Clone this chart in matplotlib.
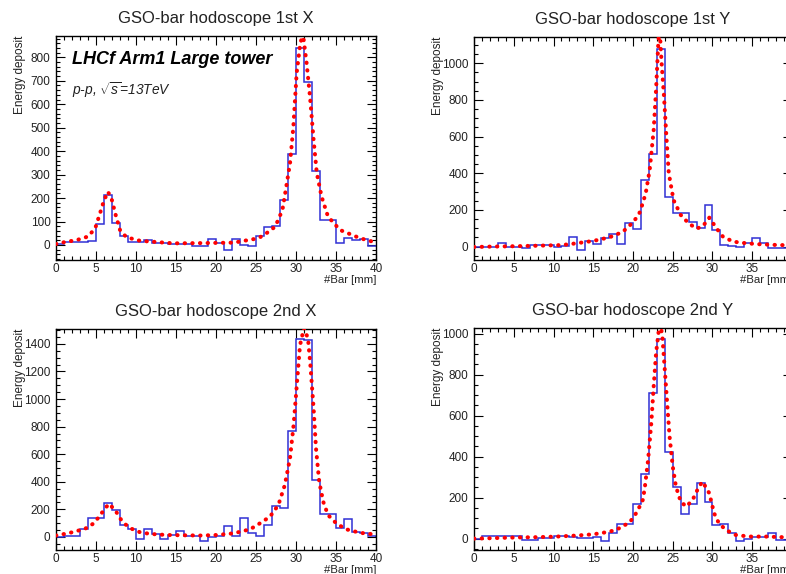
import numpy as np
import matplotlib
matplotlib.use("Agg")
import matplotlib.pyplot as plt
from matplotlib.ticker import MultipleLocator, AutoMinorLocator

plt.rcParams["font.family"] = "Liberation Sans"
plt.rcParams["mathtext.fontset"] = "custom"
plt.rcParams["mathtext.rm"] = "Liberation Sans"
plt.rcParams["mathtext.it"] = "Liberation Sans:italic"

# 40 bars, 1 mm each
bin_edges = np.arange(0, 41)

titles = ["GSO-bar hodoscope 1st X", "GSO-bar hodoscope 1st Y",
          "GSO-bar hodoscope 2nd X", "GSO-bar hodoscope 2nd Y"]

# energy deposit per bar (blue histograms)
hist_1x = [3, 13, 13, 13, 18, 90, 215, 95, 40, 11, 11, 21, 10, 10, 5, 5, 5, -5, -5, 25,
           10, -20, 25, 0, -5, 40, 75, 80, 190, 390, 840, 695, 315, 105, 105, 10, 30, 20, 25, -5]
hist_1y = [0, -3, -3, 18, -2, -2, -8, 9, 9, 9, -3, 2, 55, -18, 31, 12, 46, 69, 15, 131,
           95, 364, 505, 1080, 273, 182, 185, 136, 100, 227, 91, 9, 2, 0, 18, 46, 18, -9, -9, -7]
hist_2x = [0, 7, 7, 55, 137, 137, 244, 195, 86, 57, -17, 60, 18, -14, 13, 40, 10, 10, -28, -1,
           10, 82, 4, 137, 31, 7, 86, 226, 213, 768, 1434, 1427, 413, 167, 167, 63, 130, 34, 27, 10]
hist_2y = [0, 13, 13, 13, 13, 13, -5, -5, 3, 3, 12, 12, 8, 2, 5, 10, -10, 27, 72, 72,
           168, 314, 712, 975, 424, 253, 120, 169, 270, 180, 67, 72, 26, -10, 0, 7, 7, 26, -8, -8]

# fit curves (red dotted)
fit_1x_x = [0, 1.3, 2.5, 4.0, 4.9, 5.5, 6.0, 6.5, 7.0, 7.4, 8.0, 8.8, 10.5, 14.7, 18, 22.2,
            24.7, 25.5, 26.3, 27.4, 28.3, 28.6, 29.25, 29.67, 30.08, 30.5, 30.85, 31.33,
            31.75, 32.2, 32.6, 33.2, 34.0, 35.5, 38, 39.6, 40]
fit_1x_y = [4, 14, 20, 36, 71, 135, 190, 227, 190, 135, 64, 33, 18, 7, 8, 10,
            25, 33, 50, 78, 149, 210, 348, 504, 732, 850, 905, 774,
            632, 448, 306, 206, 121, 64, 29, 14, 12]

fit_1y_x = [0, 2, 5, 8, 10.8, 12, 15, 17, 18.7, 19.7, 20.5, 20.9, 21.6, 22.1, 22.6, 22.9,
            23.2, 23.35, 23.6, 23.9, 24.2, 24.5, 25.1, 26.0, 27.0, 28.0, 28.8, 29.6, 30.5,
            31.3, 32.6, 34.3, 35.9, 38.0, 40]
fit_1y_y = [-2, 0, 2, 5, 8, 13, 31, 50, 80, 120, 160, 191, 291, 418, 636, 855,
            1127, 1190, 1000, 818, 600, 400, 254, 173, 127, 98, 112, 158, 100,
            55, 27, 18, 13, 9, 7]

fit_2x_x = [0, 0.3, 1.5, 2.6, 3.6, 4.6, 5.3, 5.9, 6.6, 7.4, 8.0, 8.6, 9.5, 10.5, 11.75, 13.8,
            15.9, 18, 20.1, 22.2, 24.25, 25.5, 26.75, 27.8, 28.6, 29.25, 29.7, 30.1, 30.5,
            31.0, 31.5, 31.8, 32.2, 32.5, 32.9, 33.4, 34.0, 35.1, 36.3, 38, 39.7, 40]
fit_2x_y = [10, 14, 26, 43, 58, 94, 140, 188, 240, 195, 135, 94, 58, 34, 22, 14,
            12, 10, 14, 26, 55, 99, 147, 232, 376, 570, 811, 1101, 1390,
            1515, 1438, 1245, 932, 642, 401, 256, 159, 95, 55, 30, 19, 18]

fit_2y_x = [0, 2.1, 4.6, 7.9, 10.4, 12.9, 15, 17.1, 18.3, 19.6, 20.5, 21.25, 21.5, 21.9,
            22.3, 22.6, 22.9, 23.25, 23.45, 23.7, 24.0, 24.3, 24.6, 25.0, 25.4, 26.0, 26.7,
            27.5, 28.3, 28.75, 29.6, 30.2, 30.8, 31.7, 32.9, 34.6, 36.7, 38.8, 40]
fit_2y_y = [0, 2, 5, 7, 10, 15, 21, 34, 51, 80, 130, 190, 254, 384,
            563, 742, 904, 1018, 1045, 985, 823, 660, 498, 352, 254, 181, 156,
            189, 254, 278, 221, 124, 75, 42, 18, 10, 10, 7, 6]

hists = [hist_1x, hist_1y, hist_2x, hist_2y]
fits = [(fit_1x_x, fit_1x_y), (fit_1y_x, fit_1y_y), (fit_2x_x, fit_2x_y), (fit_2y_x, fit_2y_y)]
ylims = [(-64, 891), (-73, 1145), (-97, 1510), (-57, 1029)]
ysteps = [100, 200, 200, 200]

W, H = 786, 574
# axes boxes in pixels: left, top, width, height (right column runs past the edge)
boxes = [(56, 36, 320, 224), (474, 36.7, 318, 223.3),
         (56, 328.7, 320, 221.6), (474, 327.7, 318, 222.6)]

fig = plt.figure(figsize=(W / 100, H / 100), dpi=100)
fig.patch.set_facecolor("white")

for i in range(4):
    l, t, w, h = boxes[i]
    ax = fig.add_axes([l / W, 1 - (t + h) / H, w / W, h / H])

    ax.stairs(hists[i], bin_edges, color="#3030d4", lw=1.1, zorder=2)
    fx, fy = fits[i]
    ax.plot(fx, fy, color="red", lw=2.9, linestyle=(0, (0.1, 1.8)),
            dash_capstyle="round", zorder=3)

    ax.set_xlim(0, 40)
    ax.set_ylim(*ylims[i])
    ax.xaxis.set_major_locator(MultipleLocator(5))
    ax.xaxis.set_minor_locator(MultipleLocator(1))
    ax.yaxis.set_major_locator(MultipleLocator(ysteps[i]))
    ax.yaxis.set_minor_locator(AutoMinorLocator(5 if ysteps[i] == 100 else 4))
    ax.tick_params(which="both", direction="in", top=True, right=True,
                   labelsize=8.5, labelcolor="#222222", width=0.8)
    ax.tick_params(which="major", length=6.5)
    ax.tick_params(which="minor", length=3.2)
    ax.tick_params(axis="y", pad=4)
    ax.tick_params(axis="x", pad=2)
    for sp in ax.spines.values():
        sp.set_linewidth(1.0)

    ax.set_title(titles[i], fontsize=12, color="#222222", pad=9)
    ax.text(-0.112, 1.0, "Energy deposit", rotation=90, ha="center", va="top",
            fontsize=8.5, color="#222222", transform=ax.transAxes)
    ax.text(1.0, -0.068, "#Bar [mm]", ha="right", va="top",
            fontsize=8.2, color="#222222", transform=ax.transAxes)

    if i == 0:
        ax.text(0.05, 0.895, "LHCf Arm1 Large tower", fontsize=13, fontweight="bold",
                fontstyle="italic", ha="left", va="center", transform=ax.transAxes)
        ax.text(0.05, 0.76, r"p-p, $\sqrt{s}$=13TeV", fontsize=9.9, fontstyle="italic",
                ha="left", va="center", color="#222222", transform=ax.transAxes)

fig.savefig("out.png", dpi=100, facecolor="white")
